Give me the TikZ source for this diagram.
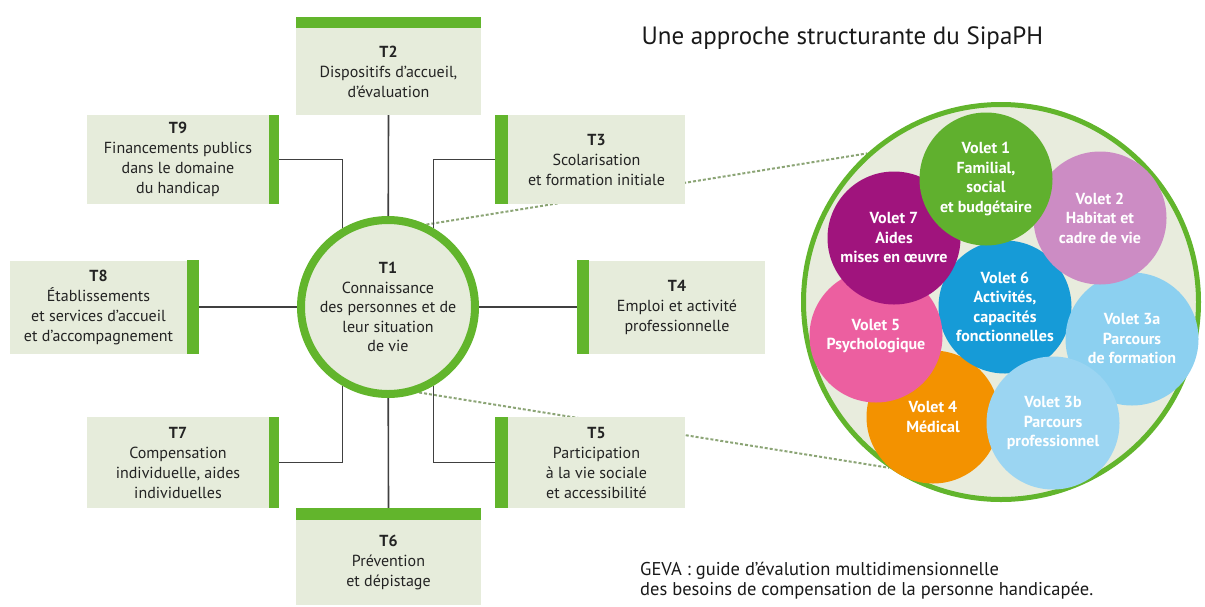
\documentclass[tikz,border=0pt]{standalone}
\usepackage{fontspec}
\setmainfont{PT Sans}
\usepackage{xcolor}
\usetikzlibrary{backgrounds}
\definecolor{boxfill}{RGB}{230,236,219}
\definecolor{tgreen}{RGB}{98,181,44}
\definecolor{txtgrey}{RGB}{35,35,35}
\definecolor{dotline}{RGB}{140,165,118}
\definecolor{ringfill}{RGB}{232,236,221}
\definecolor{vgreen}{RGB}{96,176,46}
\definecolor{vmauve}{RGB}{204,140,196}
\definecolor{vpurple}{RGB}{160,20,125}
\definecolor{vblue}{RGB}{22,155,215}
\definecolor{vpink}{RGB}{236,95,160}
\definecolor{vsky}{RGB}{140,208,240}
\definecolor{vorange}{RGB}{243,146,0}
\definecolor{vskyb}{RGB}{155,213,242}

\begin{document}
\begin{tikzpicture}[x=1pt, y=-1pt,
  tbox/.style={fill=boxfill, inner sep=0pt, align=center, text=txtgrey,
               font=\fontsize{16}{20}\selectfont},
  bar/.style={fill=tgreen},
  link/.style={draw=black!75, line width=1.6pt},
  zoomline/.style={draw=dotline, line width=2pt, dash pattern=on 3pt off 2pt},
  volet/.style={circle, inner sep=0pt, minimum size=133pt, align=center, text=white,
                font=\bfseries\fontsize{16}{19.5}\selectfont}
]
\useasboundingbox (0,0) rectangle (1205,606);

\node[anchor=west, font=\fontsize{25}{28}\selectfont, text=black!90] (title) at (638,38)
  {Une approche structurante du SipaPH};

\node[circle, draw=tgreen, line width=8pt, fill=boxfill, minimum size=174pt, inner sep=0pt,
      align=center, text=txtgrey, font=\fontsize{16}{19.5}\selectfont] (t1) at (388,307)
  {\textbf{T1}\\Connaissance\\des personnes et de\\leur situation\\de vie};

\node[tbox, minimum width=185pt, minimum height=87pt] (t2) at (388.5,71.5)
  {\textbf{T2}\\Dispositifs d'accueil,\\d'évaluation};
\node[tbox, minimum width=182pt, minimum height=89pt] (t9) at (178,159.5)
  {\textbf{T9}\\Financements publics\\dans le domaine\\du handicap};
\node[tbox, minimum width=177pt, minimum height=89pt] (t3) at (596.5,159.5)
  {\textbf{T3}\\Scolarisation\\et formation initiale};
\node[tbox, minimum width=177pt, minimum height=93pt] (t8) at (98.5,307)
  {\textbf{T8}\\Établissements\\et services d'accueil\\et d'accompagnement};
\node[tbox, minimum width=176pt, minimum height=93pt] (t4) at (677,307)
  {\textbf{T4}\\Emploi et activité\\professionnelle};
\node[tbox, minimum width=182pt, minimum height=91pt] (t7) at (178,462.5)
  {\textbf{T7}\\Compensation\\individuelle, aides\\individuelles};
\node[tbox, minimum width=177pt, minimum height=91pt] (t5) at (596.5,462.5)
  {\textbf{T5}\\Participation\\à la vie sociale\\et accessibilité};
\node[tbox, minimum width=185pt, minimum height=85pt] (t6) at (388.5,562.5)
  {\textbf{T6}\\Prévention\\et dépistage};

\fill[bar] (t2.north west) rectangle ([yshift=11pt]t2.north east);
\fill[bar] (t6.north west) rectangle ([yshift=12pt]t6.north east);
\fill[bar] (t9.north east) rectangle ([xshift=10pt]t9.south east);
\fill[bar] (t7.north east) rectangle ([xshift=10pt]t7.south east);
\fill[bar] (t8.north east) rectangle ([xshift=12pt]t8.south east);
\fill[bar] (t3.north west) rectangle ([xshift=-13pt]t3.south west);
\fill[bar] (t5.north west) rectangle ([xshift=-13pt]t5.south west);
\fill[bar] (t4.north west) rectangle ([xshift=-12pt]t4.south west);

\coordinate (t2b) at (t2.south);
\coordinate (t6b) at ([yshift=12pt]t6.north);
\coordinate (t9b) at ([xshift=10pt]t9.east);
\coordinate (t7b) at ([xshift=10pt]t7.east);
\coordinate (t8b) at ([xshift=12pt]t8.east);
\coordinate (t3b) at ([xshift=-13pt]t3.west);
\coordinate (t5b) at ([xshift=-13pt]t5.west);
\coordinate (t4b) at ([xshift=-12pt]t4.west);

\draw[link] (t2b) -- (t1);
\draw[link] (t6b) -- (t1);
\draw[link] (t8b) -- (t1);
\draw[link] (t4b) -- (t1);
\draw[link] (t9b) -| (t1.120);
\draw[link] (t3b) -| (t1.60);
\draw[link] (t7b) -| (t1.240);
\draw[link] (t5b) -| (t1.300);

\node[circle, draw=tgreen, line width=5pt, fill=ringfill, minimum size=395pt] (big) at (1001,302) {};

\node[volet, fill=vorange] (v4) at (933,417) {Volet 4\\Médical};
\node[volet, fill=vblue] (v6) at (1005,307) {Volet 6\\Activités,\\capacités\\fonctionnelles};
\node[volet, fill=vsky] (v3a) at (1132,339) {Volet 3a\\Parcours\\de formation};
\node[volet, fill=vskyb] (v3b) at (1053,423) {Volet 3b\\Parcours\\professionnel};
\node[volet, fill=vmauve] (v2) at (1100,218) {Volet 2\\Habitat et\\cadre de vie};
\node[volet, fill=vpink] (v5) at (876,336) {Volet 5\\Psychologique};
\node[volet, fill=vpurple] (v7) at (894,238) {Volet 7\\Aides\\mises en œuvre};
\node[volet, fill=vgreen] (v1) at (986,179) {Volet 1\\Familial,\\social\\et budgétaire};

\begin{scope}[on background layer]
\draw[zoomline] (t1.65) -- (big.132);
\draw[zoomline] (t1.290) -- (big.236);
\end{scope}

\node[anchor=north west, align=left, inner sep=0pt, text=black!90,
      font=\fontsize{18.5}{20}\selectfont] (geva) at (640,562)
  {GEVA : guide d'évalution multidimensionnelle\\des besoins de compensation de la personne handicapée.};
\end{tikzpicture}
\end{document}
